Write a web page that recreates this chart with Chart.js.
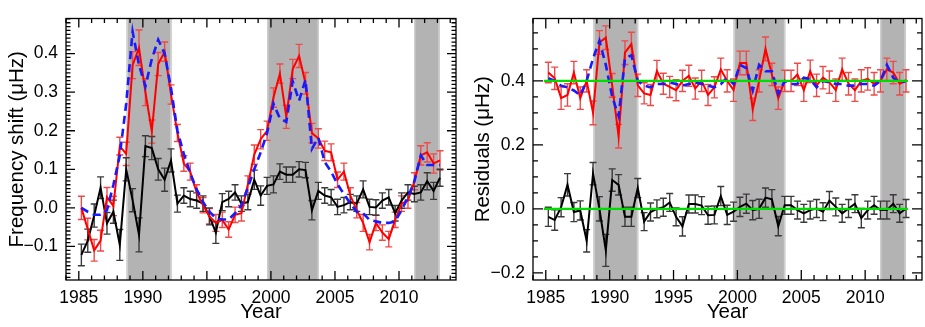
<!DOCTYPE html>
<html>
<head>
<meta charset="utf-8">
<script src="https://cdn.jsdelivr.net/npm/chart.js@4.4.1/dist/chart.umd.min.js"></script>
<style>
  body { margin: 0; background: #fff; }
  #wrap { position: relative; width: 925px; height: 327px; }
  canvas { position: absolute; top: 0; }
  #shiftChart { left: 0; }
  #residChart { left: 462px; }
</style>
</head>
<body>
<div id="wrap">
  <canvas id="shiftChart" width="462" height="327"></canvas>
  <canvas id="residChart" width="463" height="327"></canvas>
</div>
<script>
const years = [
  1985.2, 1985.7, 1986.2, 1986.7, 1987.2, 1987.7, 1988.2, 1988.7, 1989.2, 1989.7,
  1990.2, 1990.7, 1991.2, 1991.7, 1992.2, 1992.7, 1993.2, 1993.7, 1994.2, 1994.7,
  1995.2, 1995.7, 1996.2, 1996.7, 1997.2, 1997.7, 1998.2, 1998.7, 1999.2, 1999.7,
  2000.2, 2000.7, 2001.2, 2001.7, 2002.2, 2002.7, 2003.2, 2003.7, 2004.2, 2004.7,
  2005.2, 2005.7, 2006.2, 2006.7, 2007.2, 2007.7, 2008.2, 2008.7, 2009.2, 2009.7,
  2010.2, 2010.7, 2011.2, 2011.7, 2012.2, 2012.7, 2013.2
];

// left panel: frequency shift
const shiftRed = [
  0.0, -0.055, -0.11, -0.085, 0.028, 0.005, 0.16, 0.14, 0.37, 0.415,
  0.30, 0.198, 0.373, 0.405, 0.294, 0.194, 0.115, 0.094, 0.04, 0.007,
  -0.022, -0.039, -0.031, -0.056, -0.018, -0.014, 0.061, 0.138, 0.178, 0.20,
  0.286, 0.348, 0.236, 0.36, 0.394, 0.323, 0.194, 0.18, 0.148, 0.144,
  0.073, 0.094, 0.032, -0.006, -0.039, -0.089, -0.039, -0.064, -0.081, -0.031,
  0.011, 0.019, 0.069, 0.136, 0.144, 0.115, 0.123
];
const shiftRedErr = [
  0.03, 0.028, 0.028, 0.027, 0.025, 0.025, 0.023, 0.03, 0.035, 0.046,
  0.035, 0.03, 0.03, 0.025, 0.025, 0.022, 0.02, 0.022, 0.02, 0.02,
  0.02, 0.022, 0.02, 0.02, 0.02, 0.02, 0.022, 0.025, 0.025, 0.025,
  0.025, 0.025, 0.03, 0.025, 0.03, 0.028, 0.025, 0.025, 0.025, 0.022,
  0.02, 0.022, 0.02, 0.02, 0.022, 0.02, 0.02, 0.02, 0.02, 0.02,
  0.02, 0.02, 0.022, 0.025, 0.025, 0.025, 0.025
];
const shiftBlue = [
  0.0, -0.01, -0.018, -0.018, -0.006, 0.06, 0.136, 0.27, 0.457, 0.37,
  0.315, 0.386, 0.436, 0.40, 0.31, 0.2, 0.14, 0.09, 0.048, 0.015,
  -0.01, -0.027, -0.03, -0.03, -0.014, 0.007, 0.053, 0.1, 0.144, 0.194,
  0.27, 0.232, 0.223, 0.328, 0.278, 0.332, 0.153, 0.182, 0.119, 0.094,
  0.061, 0.036, 0.011, -0.01, -0.014, -0.031, -0.035, -0.039, -0.039, -0.035,
  -0.006, 0.0275, 0.069, 0.136, 0.111, 0.111, 0.111
];
const shiftBlack = [
  -0.122, -0.085, -0.02, 0.0525, -0.04, -0.01, -0.096, 0.10, 0.02, -0.07,
  0.16, 0.155, 0.10, 0.073, 0.123, 0.011, 0.032, 0.023, 0.019, 0.011,
  -0.022, -0.064, 0.015, 0.023, 0.04, 0.011, 0.015, 0.073, 0.032, 0.057,
  0.061, 0.094, 0.086, 0.086, 0.10, 0.098, -0.006, 0.044, 0.032, 0.0275,
  0.0025, 0.007, 0.015, 0.011, 0.048, 0.0025, 0.001, 0.019, 0.0275, -0.014,
  0.019, 0.04, 0.036, 0.04, 0.069, 0.044, 0.078
];
const shiftBlackErr = [
  0.028, 0.03, 0.03, 0.028, 0.028, 0.03, 0.04, 0.03, 0.03, 0.044,
  0.027, 0.03, 0.028, 0.03, 0.03, 0.022, 0.02, 0.02, 0.02, 0.02,
  0.022, 0.028, 0.022, 0.02, 0.02, 0.02, 0.02, 0.025, 0.025, 0.022,
  0.022, 0.02, 0.02, 0.02, 0.02, 0.02, 0.025, 0.022, 0.02, 0.02,
  0.02, 0.02, 0.02, 0.02, 0.022, 0.02, 0.02, 0.02, 0.02, 0.02,
  0.02, 0.02, 0.02, 0.02, 0.022, 0.022, 0.022
];

// right panel: residuals (red/blue offset by 0.4)
const residRed = [
  0.426, 0.408, 0.346, 0.356, 0.426, 0.346, 0.40, 0.30, 0.52, 0.535,
  0.386, 0.227, 0.488, 0.515, 0.386, 0.361, 0.356, 0.431, 0.391, 0.381,
  0.371, 0.40, 0.416, 0.376, 0.40, 0.356, 0.38, 0.436, 0.40, 0.371,
  0.456, 0.456, 0.311, 0.40, 0.50, 0.42, 0.346, 0.40, 0.40, 0.42,
  0.371, 0.43, 0.386, 0.41, 0.396, 0.371, 0.436, 0.391, 0.371, 0.40,
  0.406, 0.391, 0.40, 0.436, 0.426, 0.391, 0.40
];
const residRedErr = [
  0.032, 0.035, 0.035, 0.035, 0.035, 0.035, 0.035, 0.037, 0.037, 0.037,
  0.037, 0.037, 0.037, 0.037, 0.035, 0.033, 0.033, 0.033, 0.033, 0.033,
  0.033, 0.033, 0.033, 0.033, 0.033, 0.033, 0.033, 0.035, 0.035, 0.035,
  0.037, 0.037, 0.035, 0.035, 0.037, 0.035, 0.035, 0.033, 0.033, 0.035,
  0.035, 0.035, 0.035, 0.035, 0.035, 0.035, 0.035, 0.035, 0.035, 0.035,
  0.035, 0.035, 0.035, 0.035, 0.035, 0.035, 0.035
];
const residBlue = [
  0.408, 0.40, 0.385, 0.38, 0.37, 0.355, 0.40, 0.47, 0.525, 0.45,
  0.35, 0.29, 0.47, 0.48, 0.40, 0.385, 0.38, 0.39, 0.39, 0.395,
  0.39, 0.385, 0.39, 0.395, 0.39, 0.385, 0.38, 0.39, 0.41, 0.39,
  0.45, 0.44, 0.37, 0.45, 0.43, 0.43, 0.36, 0.40, 0.39, 0.39,
  0.41, 0.405, 0.38, 0.40, 0.395, 0.39, 0.39, 0.385, 0.385, 0.39,
  0.39, 0.385, 0.40, 0.45, 0.41, 0.395, 0.40
];
const residBlack = [
  -0.025, -0.035, 0.005, 0.075, -0.01, -0.005, -0.1, 0.11, 0.0, -0.13,
  0.09, 0.075, -0.025, -0.025, 0.065, -0.04, -0.01, 0.0, 0.005, 0.02,
  -0.025, -0.055, 0.015, 0.015, 0.01, -0.02, -0.019, 0.04, -0.019, -0.009,
  0.006, 0.016, -0.004, 0.0, 0.035, 0.03, -0.054, 0.011, 0.011, -0.004,
  -0.014, -0.004, 0.001, -0.009, 0.026, 0.006, -0.014, 0.001, 0.016, -0.029,
  -0.004, 0.011, -0.004, -0.004, 0.016, -0.014, 0.001
];
const residBlackErr = [
  0.03, 0.032, 0.03, 0.035, 0.03, 0.03, 0.035, 0.035, 0.038, 0.05,
  0.035, 0.032, 0.03, 0.03, 0.03, 0.028, 0.028, 0.028, 0.028, 0.028,
  0.028, 0.03, 0.028, 0.028, 0.028, 0.028, 0.028, 0.03, 0.03, 0.03,
  0.03, 0.03, 0.03, 0.03, 0.03, 0.03, 0.03, 0.028, 0.028, 0.028,
  0.028, 0.028, 0.028, 0.028, 0.028, 0.028, 0.028, 0.028, 0.028, 0.03,
  0.028, 0.028, 0.028, 0.028, 0.028, 0.028, 0.028
];
const residLevels = [0.4, 0.0];
const levelSpan = [1984.85, 2013.35];

const shadedSpans = [[1988.73, 1992.24], [1999.7, 2003.75], [2011.17, 2013.18]];
const yearTicks = [1985, 1990, 1995, 2000, 2005, 2010];
const shiftTicks = [-0.1, 0.0, 0.1, 0.2, 0.3, 0.4];
const residTicks = [-0.2, 0.0, 0.2, 0.4];

const FONT = "'Liberation Sans', Arial, Helvetica, sans-serif";
Chart.defaults.font.family = FONT;
Chart.defaults.color = '#000';

const pts = (vals) => years.map((x, i) => ({ x, y: vals[i] }));
const fmt = (v) => (v < 0 ? '\u2212' : '') + Math.abs(v).toFixed(1);

const panelDecor = {
  id: 'panelDecor',
  beforeDatasetsDraw(chart) {
    const { ctx, chartArea: a, scales: { x, y } } = chart;
    ctx.save();
    ctx.beginPath();
    ctx.rect(a.left, a.top, a.right - a.left, a.bottom - a.top);
    ctx.clip();
    shadedSpans.forEach(([s, e]) => {
      const x0 = x.getPixelForValue(s);
      const x1 = x.getPixelForValue(e);
      ctx.fillStyle = '#b3b3b3';
      ctx.fillRect(x0, a.top, x1 - x0, a.bottom - a.top);
      ctx.fillStyle = '#cfcfcf';
      ctx.fillRect(x0, a.top, 1.5, a.bottom - a.top);
      ctx.fillRect(x1 - 1.5, a.top, 1.5, a.bottom - a.top);
    });
    chart.data.datasets.forEach((ds) => {
      if (!ds.errors) return;
      ctx.strokeStyle = ds.errorColor;
      ctx.lineWidth = 1.4;
      ds.data.forEach((p, i) => {
        const px = x.getPixelForValue(p.x);
        const lo = y.getPixelForValue(p.y - ds.errors[i]);
        const hi = y.getPixelForValue(p.y + ds.errors[i]);
        ctx.beginPath();
        ctx.moveTo(px, lo); ctx.lineTo(px, hi);
        ctx.moveTo(px - 3.5, lo); ctx.lineTo(px + 3.5, lo);
        ctx.moveTo(px - 3.5, hi); ctx.lineTo(px + 3.5, hi);
        ctx.stroke();
      });
    });
    ctx.restore();
  },
  afterDraw(chart, args, opts) {
    const { ctx, chartArea: a, scales: { x, y } } = chart;
    ctx.save();
    ctx.strokeStyle = '#000';
    ctx.lineWidth = 1.3;
    ctx.strokeRect(a.left, a.top, a.right - a.left, a.bottom - a.top);
    ctx.beginPath();
    const marks = (scale, minor, major, draw) => {
      for (let k = Math.ceil(scale.min / minor - 1e-6); k * minor <= scale.max + 1e-9; k++) {
        const v = k * minor;
        const r = v / major;
        const isMajor = Math.abs(r - Math.round(r)) < 1e-6;
        draw(scale.getPixelForValue(v), isMajor ? opts.majorLen : opts.minorLen);
      }
    };
    marks(x, opts.xMinor, opts.xMajor, (px, len) => {
      ctx.moveTo(px, a.bottom); ctx.lineTo(px, a.bottom - len);
      ctx.moveTo(px, a.top); ctx.lineTo(px, a.top + len);
    });
    marks(y, opts.yMinor, opts.yMajor, (py, len) => {
      ctx.moveTo(a.left, py); ctx.lineTo(a.left + len, py);
      ctx.moveTo(a.right, py); ctx.lineTo(a.right - len, py);
    });
    ctx.stroke();
    ctx.restore();
  }
};

function axes(yMin, yMax, yTicks, yTitle, yWidth, titlePad) {
  return {
    x: {
      type: 'linear',
      min: 1984,
      max: 2014.45,
      afterBuildTicks: (s) => { s.ticks = yearTicks.map((value) => ({ value })); },
      afterFit: (s) => { s.height = 47; },
      grid: { display: false, drawTicks: false },
      border: { display: false },
      ticks: { padding: 8, maxRotation: 0, font: { size: 17.5 }, callback: (v) => String(v) },
      title: { display: true, text: 'Year', font: { size: 20.5 }, padding: { top: 0, bottom: 2 } }
    },
    y: {
      type: 'linear',
      min: yMin,
      max: yMax,
      afterBuildTicks: (s) => { s.ticks = yTicks.map((value) => ({ value })); },
      afterFit: (s) => { s.width = yWidth; },
      grid: { display: false, drawTicks: false },
      border: { display: false },
      ticks: { padding: 8, font: { size: 17.5 }, callback: (v) => fmt(v) },
      title: { display: true, text: yTitle, font: { size: 20.5 }, padding: { top: titlePad, bottom: 0 } }
    }
  };
}

const baseOptions = {
  responsive: false,
  animation: false,
  devicePixelRatio: 1,
  plugins: { legend: { display: false }, tooltip: { enabled: false } },
  elements: { point: { radius: 0 }, line: { tension: 0 } }
};

new Chart(document.getElementById('shiftChart'), {
  type: 'line',
  data: {
    datasets: [
      { data: pts(shiftBlue), borderColor: '#1a1aff', borderWidth: 2.6, borderDash: [8, 5] },
      { data: pts(shiftRed), borderColor: '#ff0000', borderWidth: 2, errors: shiftRedErr, errorColor: '#ee4a4a' },
      { data: pts(shiftBlack), borderColor: '#000000', borderWidth: 2, errors: shiftBlackErr, errorColor: '#3a3a3a' }
    ]
  },
  options: {
    ...baseOptions,
    layout: { padding: { top: 8, right: 6, left: 0, bottom: 0 } },
    scales: axes(-0.187, 0.491, shiftTicks, 'Frequency shift (\u03bcHz)', 66, 5),
    plugins: {
      ...baseOptions.plugins,
      panelDecor: { xMinor: 1, xMajor: 5, yMinor: 0.01, yMajor: 0.1, majorLen: 9, minorLen: 4.5 }
    }
  },
  plugins: [panelDecor]
});

new Chart(document.getElementById('residChart'), {
  type: 'line',
  data: {
    datasets: [
      ...residLevels.map((lv) => ({
        data: levelSpan.map((x) => ({ x, y: lv })), borderColor: '#00dd00', borderWidth: 2.2
      })),
      { data: pts(residBlue), borderColor: '#1a1aff', borderWidth: 2.6, borderDash: [8, 5] },
      { data: pts(residRed), borderColor: '#ff0000', borderWidth: 2, errors: residRedErr, errorColor: '#ee4a4a' },
      { data: pts(residBlack), borderColor: '#000000', borderWidth: 2, errors: residBlackErr, errorColor: '#3a3a3a' }
    ]
  },
  options: {
    ...baseOptions,
    layout: { padding: { top: 8, right: 3, left: 0, bottom: 0 } },
    scales: axes(-0.2225, 0.595, residTicks, 'Residuals (\u03bcHz)', 71, 9),
    plugins: {
      ...baseOptions.plugins,
      panelDecor: { xMinor: 1, xMajor: 5, yMinor: 0.05, yMajor: 0.2, majorLen: 10, minorLen: 5 }
    }
  },
  plugins: [panelDecor]
});
</script>
</body>
</html>
